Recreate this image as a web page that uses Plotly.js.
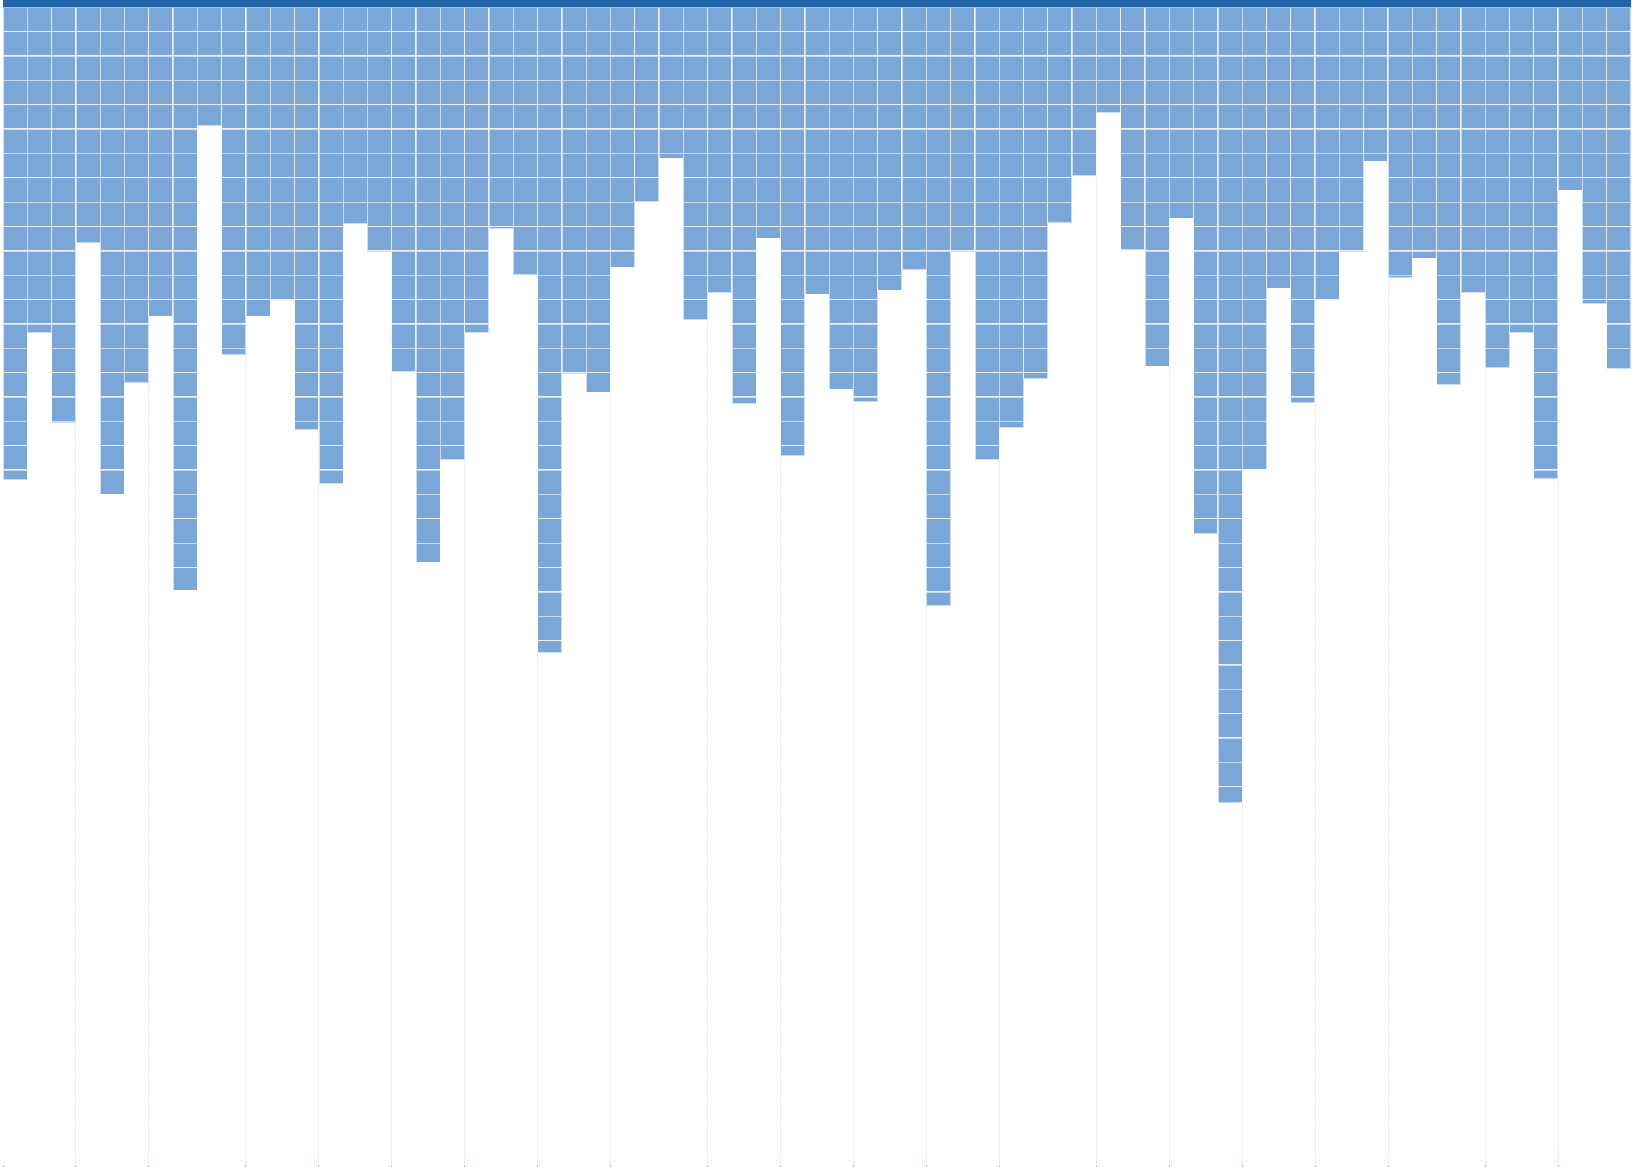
<!DOCTYPE html>
<html>
<head>
<meta charset="utf-8">
<script src="https://cdn.plot.ly/plotly-3.0.1.min.js"></script>
<style>
  html, body { margin: 0; padding: 0; background: #ffffff; }
  #chart { width: 1632px; height: 1167px; }
</style>
</head>
<body>
<div id="chart"></div>
<script>
// Depth of each column (units, measured from the top edge)
const depths = [
  19.40, 13.37, 17.05, 9.66, 20.00, 15.43, 12.69, 23.93, 4.87, 14.27,
  12.69, 12.01, 17.35, 19.57, 8.89, 10.03, 14.96, 22.78, 18.59, 13.37,
  9.10, 10.98, 26.49, 15.04, 15.81, 10.68, 7.99, 6.20, 12.82, 11.71,
  16.28, 9.49, 18.42, 11.79, 15.68, 16.20, 11.62, 10.77, 24.57, 10.04,
  18.59, 17.26, 15.26, 8.85, 6.92, 4.32, 9.96, 14.74, 8.67, 21.62,
  32.65, 18.97, 11.54, 16.24, 12.01, 10.03, 6.32, 11.11, 10.30, 15.51,
  11.71, 14.79, 13.37, 19.36, 7.52, 12.18, 14.83
];
// Column index of each column
const columns = depths.map((d, i) => i);
// Tick boundaries (between columns)
const tickBoundaries = [0, 3, 6, 10, 13, 16, 19, 22, 25, 29, 32, 35, 38, 41, 45, 48, 51, 54, 57, 61, 64];

const cellColor = '#7ba6d8';
const cellLine = 'rgba(255,255,255,0.62)';

const maxLevel = Math.ceil(Math.max(...depths));
const traces = [];
for (let j = 0; j < maxLevel; j++) {
  const seg = depths.map(v => {
    const h = Math.min(1, v - j);
    return h > 0 ? h : null;
  });
  traces.push({
    type: 'bar',
    x: columns,
    y: seg,
    marker: { color: cellColor, line: { color: cellLine, width: 1.3 } },
    hoverinfo: 'skip',
    showlegend: false
  });
}

const layout = {
  width: 1632,
  height: 1167,
  margin: { l: 2.5, r: 0.5, t: 0, b: 2 },
  paper_bgcolor: '#ffffff',
  plot_bgcolor: '#ffffff',
  barmode: 'stack',
  bargap: 0,
  showlegend: false,
  xaxis: {
    range: [-0.5, 66.5],
    tickmode: 'array',
    tickvals: tickBoundaries.map(b => b - 0.5),
    ticktext: tickBoundaries.map(() => ''),
    showticklabels: false,
    ticks: 'outside',
    ticklen: 5,
    tickwidth: 1,
    tickcolor: '#5a8fd2',
    showgrid: true,
    gridcolor: '#e8eef8',
    gridwidth: 1,
    zeroline: false,
    showline: false,
    fixedrange: true
  },
  yaxis: {
    range: [47.53, -0.30],
    dtick: 1,
    tick0: 0,
    showticklabels: false,
    ticks: '',
    showgrid: true,
    gridcolor: '#ffffff',
    gridwidth: 1,
    zeroline: false,
    showline: false,
    fixedrange: true
  },
  shapes: [{
    type: 'rect',
    xref: 'paper', x0: 0, x1: 1,
    yref: 'y', y0: -0.30, y1: 0,
    fillcolor: '#2166a5',
    line: { width: 0 },
    layer: 'above'
  }]
};

Plotly.newPlot('chart', traces, layout, { displayModeBar: false, staticPlot: true });
</script>
</body>
</html>
